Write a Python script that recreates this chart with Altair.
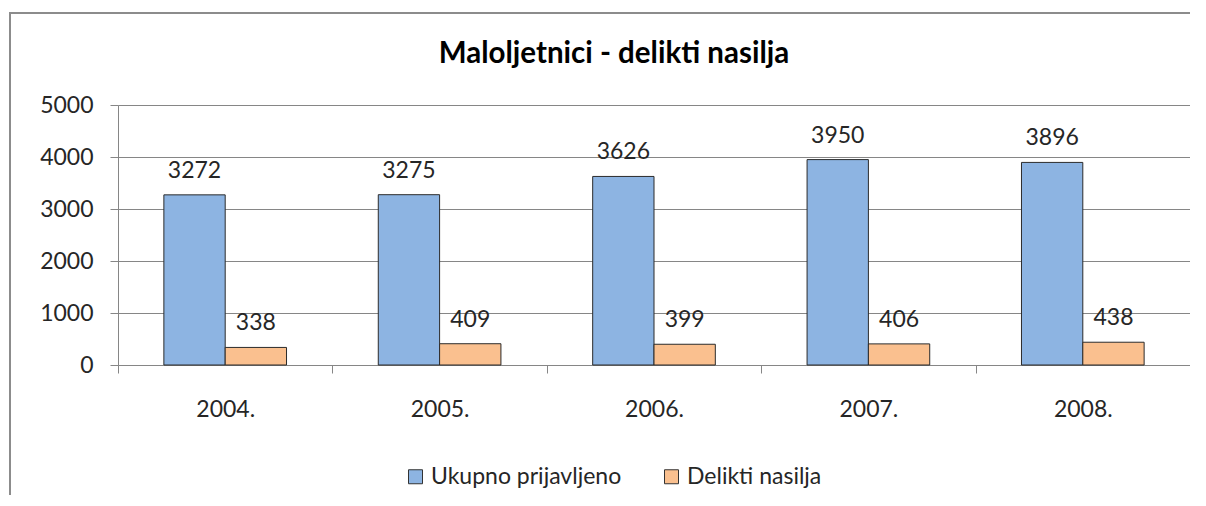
import altair as alt
import pandas as pd

years = ["2004.", "2005.", "2006.", "2007.", "2008."]
series = ["Ukupno prijavljeno", "Delikti nasilja"]
ukupno = [3272, 3275, 3626, 3950, 3896]
delikti = [338, 409, 399, 406, 438]
colors = ["#8DB4E2", "#FAC08F"]
title_text = "Maloljetnici - delikti nasilja"

rows = []
for y, u, d in zip(years, ukupno, delikti):
    rows.append({"year": y, "series": series[0], "value": u})
    rows.append({"year": y, "series": series[1], "value": d})
df = pd.DataFrame(rows)

FONT = "Lato"
TXT = "#262626"
GRID = "#868686"

x_enc = alt.X(
    "year:N",
    sort=years,
    scale=alt.Scale(paddingInner=0, paddingOuter=0),
    axis=alt.Axis(
        title=None,
        tickBand="extent",
        tickSize=8,
        tickColor=GRID,
        domainColor=GRID,
        labelFont=FONT,
        labelFontSize=23,
        labelColor=TXT,
        labelPadding=25,
        labelAngle=0,
        grid=False,
    ),
)
xoff_enc = alt.XOffset(
    "series:N", sort=series, scale=alt.Scale(paddingInner=0, paddingOuter=0.748)
)
y_enc = alt.Y(
    "value:Q",
    scale=alt.Scale(domain=[0, 5000], nice=False),
    axis=alt.Axis(
        title=None,
        values=[0, 1000, 2000, 3000, 4000, 5000],
        format="d",
        tickSize=8,
        tickColor=GRID,
        domainColor=GRID,
        gridColor=GRID,
        labelFont=FONT,
        labelFontSize=23,
        labelColor=TXT,
        labelPadding=17,
    ),
)
color_enc = alt.Color(
    "series:N",
    sort=series,
    scale=alt.Scale(domain=series, range=colors),
    legend=alt.Legend(
        title=None,
        orient="none",
        direction="horizontal",
        legendX=286,
        legendY=360,
        symbolType="square",
        symbolSize=196,
        symbolStrokeColor="#333333",
        symbolStrokeWidth=1,
        labelFont=FONT,
        labelFontSize=23,
        labelColor=TXT,
        labelOffset=4,
        labelLimit=0,
        columnPadding=38,
        padding=0,
    ),
)

base = alt.Chart(df)
bars = base.mark_bar(stroke="#2b2b2b", strokeWidth=1).encode(
    x=x_enc, xOffset=xoff_enc, y=y_enc, color=color_enc
)
labels = base.mark_text(
    dy=-17, baseline="alphabetic", font=FONT, fontSize=23, color=TXT
).encode(x=x_enc, xOffset=xoff_enc, y=y_enc, text="value:Q")

title = alt.Chart(pd.DataFrame({"t": [title_text]})).mark_text(
    font=FONT, fontSize=29.5, fontWeight="bold", color="#000000",
    align="center", baseline="alphabetic"
).encode(x=alt.value(496), y=alt.value(-42), text="t:N")

frame_df = pd.DataFrame({"k": [0]})
frame = alt.Chart(frame_df).mark_rect(
    fill="transparent", stroke="#8c8c8c", strokeWidth=2
).encode(
    x=alt.value(-108), x2=alt.value(1100), y=alt.value(-92), y2=alt.value(420)
)

chart = (
    alt.layer(frame, bars, labels, title)
    .properties(
        width=1072,
        height=260,
        autosize=alt.AutoSizeParams(type="none"),
        padding={"left": 110, "top": 97, "right": 0, "bottom": 130},
    )
    .configure_view(stroke=None)
    .configure(background="white")
)

chart.save("out.html", embed_options={"renderer": "svg", "actions": False})
